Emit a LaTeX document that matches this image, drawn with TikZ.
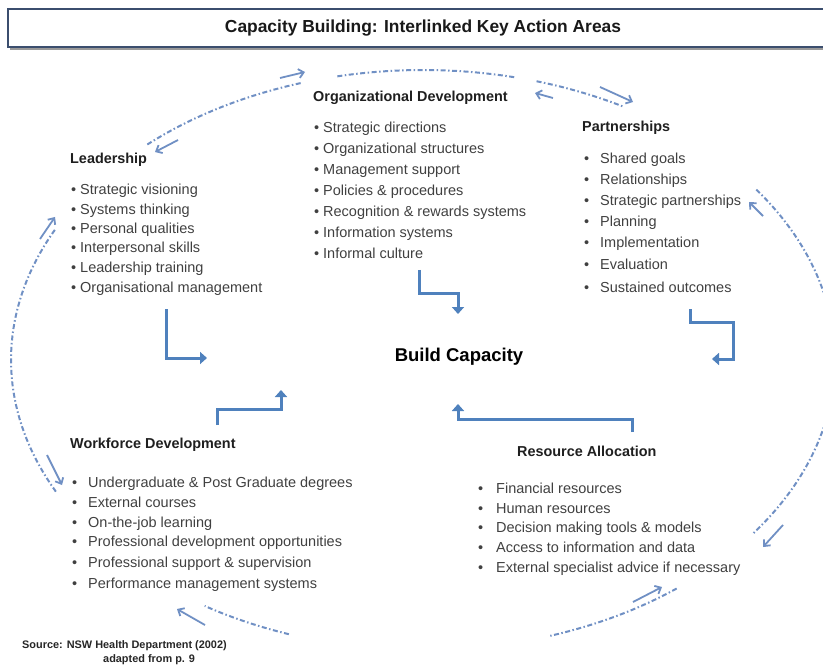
\documentclass[tikz,border=0pt]{standalone}
\usepackage{fontspec}
\setmainfont{Liberation Sans}
\usetikzlibrary{arrows.meta}
\definecolor{arrowblue}{HTML}{4F81BD}
\definecolor{dashblue}{HTML}{7090C4}
\definecolor{txt}{HTML}{404040}
\definecolor{titleframe}{HTML}{3B4E6E}
\begin{document}
\begin{tikzpicture}[x=1pt,y=-1pt,
  item/.style={anchor=west, inner sep=0pt, yshift=-2pt, text=txt, text height=10pt, text depth=3pt, font=\fontsize{14.5}{17}\selectfont},
  head/.style={anchor=west, inner sep=0pt, yshift=-2pt, text=black!88, text height=10pt, text depth=3pt, font=\bfseries\fontsize{14.4}{17}\selectfont},
  flow/.style={draw=arrowblue, line width=3pt, -{Triangle[length=7pt,width=12pt]}},
  ring/.style={draw=dashblue, line width=2pt, dash pattern=on 5pt off 2.5pt on 1.5pt off 2.5pt},
  ringarrow/.style={draw=dashblue, line width=1.8pt, -{Straight Barb[length=5pt,width=9pt]}}
]
\useasboundingbox (0,0) rectangle (823,666);
% title
\fill[black!40] (10,11) rectangle (836,50);
\node[draw=titleframe, fill=white, line width=1.8pt, minimum width=824pt, minimum height=38pt, inner sep=0pt] (title) at (420,28) {};
\node[font=\bfseries\fontsize{17.4}{20}\selectfont, text=black!90, inner sep=0pt] (titletext) at (423,28) {Capacity Building: Interlinked Key Action Areas};

% ring arcs
\draw[ring] plot[domain=153:207, samples=40] ({423+412*cos(\x)},{360+290*sin(\x)});
\draw[ring] plot[domain=228:253, samples=30] ({423+412*cos(\x)},{360+290*sin(\x)});
\draw[ring] plot[domain=-102:-77, samples=30] ({423+412*cos(\x)},{360+290*sin(\x)});
\draw[ring] plot[domain=-74:-61, samples=20] ({423+412*cos(\x)},{360+290*sin(\x)});
\draw[ring] plot[domain=-36:-12, samples=30] ({423+412*cos(\x)},{360+290*sin(\x)});
\draw[ring] plot[domain=12:37, samples=30] ({423+412*cos(\x)},{360+290*sin(\x)});
\draw[ring] plot[domain=52:72, samples=30] ({423+412*cos(\x)},{360+290*sin(\x)});
\draw[ring] plot[domain=109:122, samples=20] ({423+412*cos(\x)},{360+290*sin(\x)});
% ring arrows
\draw[ringarrow] (178,140) -- (155,152);
\draw[ringarrow] (280,78) -- (305,72);
\draw[ringarrow] (553,98) -- (535,93);
\draw[ringarrow] (600,87) -- (633,102);
\draw[ringarrow] (763,216) -- (749,202);
\draw[ringarrow] (783,525) -- (763,547);
\draw[ringarrow] (633,602) -- (662,587);
\draw[ringarrow] (205,625) -- (177,609);
\draw[ringarrow] (47,455) -- (62,485);
\draw[ringarrow] (40,239) -- (55,217);

% Leadership
\node[head] (lead) at (70,158) {Leadership};
\node[item] (lb1) at (71,189) {•};\node[item] (l1) at (80,189) {Strategic visioning};
\node[item] (lb2) at (71,209) {•};\node[item] (l2) at (80,209) {Systems thinking};
\node[item] (lb3) at (71,228) {•};\node[item] (l3) at (80,228) {Personal qualities};
\node[item] (lb4) at (71,247) {•};\node[item] (l4) at (80,247) {Interpersonal skills};
\node[item] (lb5) at (71,267) {•};\node[item] (l5) at (80,267) {Leadership training};
\node[item] (lb6) at (71,287) {•};\node[item] (l6) at (80,287) {Organisational management};

% Organizational Development
\node[head] (org) at (313,96) {Organizational Development};
\node[item] (ob1) at (314,127) {•};\node[item] (o1) at (323,127) {Strategic directions};
\node[item] (ob2) at (314,148) {•};\node[item] (o2) at (323,148) {Organizational structures};
\node[item] (ob3) at (314,169) {•};\node[item] (o3) at (323,169) {Management support};
\node[item] (ob4) at (314,190) {•};\node[item] (o4) at (323,190) {Policies \& procedures};
\node[item] (ob5) at (314,211) {•};\node[item] (o5) at (323,211) {Recognition \& rewards systems};
\node[item] (ob6) at (314,232) {•};\node[item] (o6) at (323,232) {Information systems};
\node[item] (ob7) at (314,253) {•};\node[item] (o7) at (323,253) {Informal culture};

% Partnerships
\node[head] (part) at (582,126) {Partnerships};
\node[item] (pb1) at (584,158) {•};\node[item] (p1) at (600,158) {Shared goals};
\node[item] (pb2) at (584,179) {•};\node[item] (p2) at (600,179) {Relationships};
\node[item] (pb3) at (584,200) {•};\node[item] (p3) at (600,200) {Strategic partnerships};
\node[item] (pb4) at (584,221) {•};\node[item] (p4) at (600,221) {Planning};
\node[item] (pb5) at (584,242) {•};\node[item] (p5) at (600,242) {Implementation};
\node[item] (pb6) at (584,264) {•};\node[item] (p6) at (600,264) {Evaluation};
\node[item] (pb7) at (584,287) {•};\node[item] (p7) at (600,287) {Sustained outcomes};

% Workforce Development
\node[head] (work) at (70,443) {Workforce Development};
\node[item] (wb1) at (72,482) {•};\node[item] (w1) at (88,482) {Undergraduate \& Post Graduate degrees};
\node[item] (wb2) at (72,502) {•};\node[item] (w2) at (88,502) {External courses};
\node[item] (wb3) at (72,522) {•};\node[item] (w3) at (88,522) {On-the-job learning};
\node[item] (wb4) at (72,541) {•};\node[item] (w4) at (88,541) {Professional development opportunities};
\node[item] (wb5) at (72,562) {•};\node[item] (w5) at (88,562) {Professional support \& supervision};
\node[item] (wb6) at (72,583) {•};\node[item] (w6) at (88,583) {Performance management systems};

% Resource Allocation
\node[head] (res) at (517,451) {Resource Allocation};
\node[item] (rb1) at (478,488) {•};\node[item] (r1) at (496,488) {Financial resources};
\node[item] (rb2) at (478,508) {•};\node[item] (r2) at (496,508) {Human resources};
\node[item] (rb3) at (478,527) {•};\node[item] (r3) at (496,527) {Decision making tools \& models};
\node[item] (rb4) at (478,547) {•};\node[item] (r4) at (496,547) {Access to information and data};
\node[item] (rb5) at (478,567) {•};\node[item] (r5) at (496,567) {External specialist advice if necessary};

% centre
\node[font=\bfseries\fontsize{18.5}{22}\selectfont, text=black, inner sep=0pt] (bc) at (459,357) {Build Capacity};

% elbow connectors
\coordinate (ls) at (166,309); \coordinate (le) at (207,358);
\coordinate (os) at (419,270); \coordinate (oe) at (458,314);
\coordinate (ps) at (690,309); \coordinate (pe) at (712,359);
\coordinate (ws) at (217,425); \coordinate (we) at (281,390);
\coordinate (rs) at (632,432); \coordinate (re) at (458,404);
\draw[flow] (ls) |- (le);
\draw[flow] (os) -- ++(0,23) -| (oe);
\draw[flow] (ps) -- ++(0,13) -- (733,322) |- (pe);
\draw[flow] (ws) -- ++(0,-16) -| (we);
\draw[flow] (rs) -- ++(0,-13) -| (re);

% source
\node[anchor=west, inner sep=0pt, font=\bfseries\fontsize{10.9}{12}\selectfont, text=black!85] (src1) at (22,646) {Source: NSW Health Department (2002)};
\node[anchor=west, inner sep=0pt, font=\bfseries\fontsize{10.9}{12}\selectfont, text=black!85] (src2) at (103,660) {adapted from p. 9};
\end{tikzpicture}
\end{document}
